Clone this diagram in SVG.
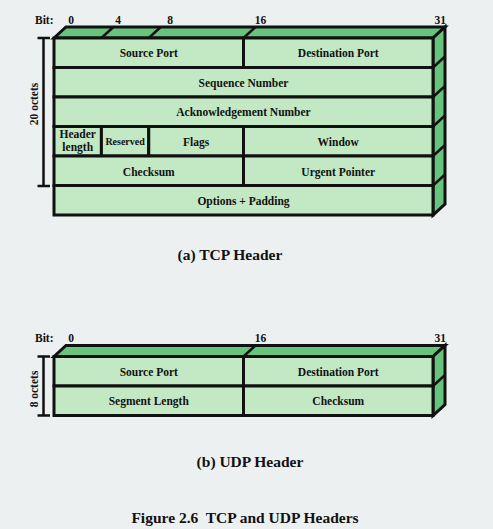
<svg xmlns="http://www.w3.org/2000/svg" width="493" height="529" viewBox="0 0 493 529">
<style>
.bg{fill:#edf0f1}
.cell{fill:#c2e8c4;stroke:#111;stroke-width:3}
.face{fill:#66c47c;stroke:#111;stroke-width:3;stroke-linejoin:miter}
.ln{stroke:#111;stroke-width:2.5;fill:none}
text{font-family:"Liberation Serif","Times New Roman",serif;font-weight:bold;fill:#111}
.t{font-size:11.5px;text-anchor:middle}
.s{font-size:10px;text-anchor:middle}
.b{font-size:11.5px}
.cap{font-size:15.5px;text-anchor:middle}
</style>
<rect class="bg" x="0" y="0" width="493" height="529"/>

<!-- TCP header -->
<g id="tcp-box">
  <polygon class="face" points="54,38 66,27 445,27 433,38"/>
  <polygon class="face" points="433,38 445,27 445,204 433,215"/>
  <g class="ln">
    <line x1="101.4" y1="38" x2="113.4" y2="27"/>
    <line x1="148.75" y1="38" x2="160.75" y2="27"/>
    <line x1="243.5" y1="38" x2="255.5" y2="27"/>
    <line x1="433" y1="67.5" x2="445" y2="56.5"/>
    <line x1="433" y1="97" x2="445" y2="86"/>
    <line x1="433" y1="126.5" x2="445" y2="115.5"/>
    <line x1="433" y1="156" x2="445" y2="145"/>
    <line x1="433" y1="185.5" x2="445" y2="174.5"/>
  </g>
</g>
<g id="tcp-bits">
  <text class="b" x="35" y="23.5">Bit:</text>
  <text class="b" x="71" y="23.5" text-anchor="middle">0</text>
  <text class="b" x="118" y="23.5" text-anchor="middle">4</text>
  <text class="b" x="170" y="23.5" text-anchor="middle">8</text>
  <text class="b" x="260.5" y="23.5" text-anchor="middle">16</text>
  <text class="b" x="446" y="23.5" text-anchor="end">31</text>
</g>
<g id="tcp-source-port"><rect class="cell" x="54" y="38" width="189.5" height="29.5"/><text class="t" x="148.75" y="57">Source Port</text></g>
<g id="tcp-destination-port"><rect class="cell" x="243.5" y="38" width="189.5" height="29.5"/><text class="t" x="338.25" y="57">Destination Port</text></g>
<g id="tcp-sequence-number"><rect class="cell" x="54" y="67.5" width="379" height="29.5"/><text class="t" x="243.5" y="86.5">Sequence Number</text></g>
<g id="tcp-ack-number"><rect class="cell" x="54" y="97" width="379" height="29.5"/><text class="t" x="243.5" y="116">Acknowledgement Number</text></g>
<g id="tcp-header-length"><rect class="cell" x="54" y="126.5" width="47.4" height="29.5"/><text class="t" x="77.7" y="138">Header</text><text class="t" x="77.7" y="151">length</text></g>
<g id="tcp-reserved"><rect class="cell" x="101.4" y="126.5" width="47.35" height="29.5"/><text class="s" x="125.1" y="145">Reserved</text></g>
<g id="tcp-flags"><rect class="cell" x="148.75" y="126.5" width="94.75" height="29.5"/><text class="t" x="196.1" y="145.5">Flags</text></g>
<g id="tcp-window"><rect class="cell" x="243.5" y="126.5" width="189.5" height="29.5"/><text class="t" x="338.25" y="145.5">Window</text></g>
<g id="tcp-checksum"><rect class="cell" x="54" y="156" width="189.5" height="29.5"/><text class="t" x="148.75" y="175.5">Checksum</text></g>
<g id="tcp-urgent-pointer"><rect class="cell" x="243.5" y="156" width="189.5" height="29.5"/><text class="t" x="338.25" y="175.5">Urgent Pointer</text></g>
<g id="tcp-options"><rect class="cell" x="54" y="185.5" width="379" height="29.5"/><text class="t" x="243.5" y="204.5">Options + Padding</text></g>
<text class="cap" x="230" y="260">(a) TCP Header</text>

<!-- UDP header -->
<g id="udp-box">
  <polygon class="face" points="54,356.5 66,345.5 445,345.5 433,356.5"/>
  <polygon class="face" points="433,356.5 445,345.5 445,404.5 433,415.5"/>
  <g class="ln">
    <line x1="243.5" y1="356.5" x2="255.5" y2="345.5"/>
    <line x1="433" y1="386" x2="445" y2="375"/>
  </g>
</g>
<g id="udp-bits">
  <text class="b" x="35" y="341.5">Bit:</text>
  <text class="b" x="71" y="341.5" text-anchor="middle">0</text>
  <text class="b" x="260.5" y="341.5" text-anchor="middle">16</text>
  <text class="b" x="446" y="341.5" text-anchor="end">31</text>
</g>
<g id="udp-source-port"><rect class="cell" x="54" y="356.5" width="189.5" height="29.5"/><text class="t" x="148.75" y="375.5">Source Port</text></g>
<g id="udp-destination-port"><rect class="cell" x="243.5" y="356.5" width="189.5" height="29.5"/><text class="t" x="338.25" y="375.5">Destination Port</text></g>
<g id="udp-segment-length"><rect class="cell" x="54" y="386" width="189.5" height="29.5"/><text class="t" x="148.75" y="405">Segment Length</text></g>
<g id="udp-checksum"><rect class="cell" x="243.5" y="386" width="189.5" height="29.5"/><text class="t" x="338.25" y="405">Checksum</text></g>
<text class="cap" x="250" y="467">(b) UDP Header</text>

<!-- dimension brackets -->
<g id="connectors">
  <g class="ln">
    <line x1="43.5" y1="38" x2="43.5" y2="186"/>
    <line x1="37.5" y1="38" x2="50" y2="38"/>
    <line x1="37.5" y1="186" x2="50" y2="186"/>
    <line x1="43.5" y1="356.5" x2="43.5" y2="415.5"/>
    <line x1="37.5" y1="356.5" x2="50" y2="356.5"/>
    <line x1="37.5" y1="415.5" x2="50" y2="415.5"/>
  </g>
  <text class="t" transform="translate(37.5,104) rotate(-90)">20 octets</text>
  <text class="t" transform="translate(37.5,389) rotate(-90)">8 octets</text>
</g>

<text class="cap" x="245" y="522.5" xml:space="preserve">Figure 2.6  TCP and UDP Headers</text>
</svg>
